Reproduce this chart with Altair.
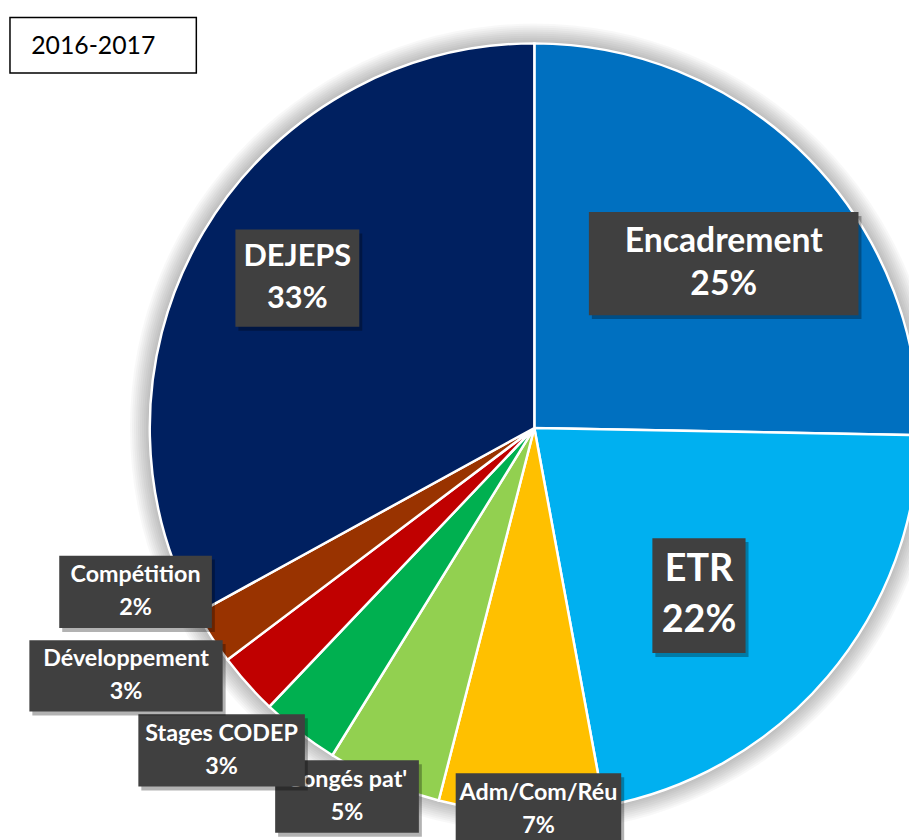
import math
import altair as alt
import pandas as pd

# ---- data ----
labels = ["Encadrement", "ETR", "Adm/Com/Réu", "Congés pat'", "Stages CODEP",
          "Développement", "Compétition", "DEJEPS"]
values = [25.3, 21.8, 6.9, 4.8, 3.3, 2.6, 2.3, 33.0]
colors = ["#0070C0", "#00B0F0", "#FFC000", "#92D050", "#00B050",
          "#C00000", "#993300", "#002060"]
title_text = "2016-2017"

# ---- label styling / placement (style, not data) ----
label_nudge_deg = [3.5, 5.2, -2.6, 3.9, 6.5, 10.5, 10.6, 1.7]
label_r_frac = [0.652, 0.611, 0.992, 1.075, 1.168, 1.242, 1.121, 0.729]
box_w = [272, 94, 167, 145, 168, 195, 154, 125]
box_h = [104, 116, 73, 73, 73, 72, 73, 98]
font_size = [34, 38, 23.5, 23.5, 23.5, 23.5, 23.5, 31]
line_gap = [44, 51, 33, 33, 33, 33, 33, 42]

CX, CY, R = 531, 420, 388
FONT = "Lato"

total = sum(values)
rows = []
cum = 0.0
for i, (lab, v) in enumerate(zip(labels, values)):
    mid = (cum + v / 2) / total * 360 + label_nudge_deg[i]
    cum += v
    r = label_r_frac[i] * R
    lx = CX + r * math.sin(math.radians(mid))
    ly = CY - r * math.cos(math.radians(mid))
    rows.append(dict(
        idx=i, label=lab, value=v, pct=f"{round(v / total * 100)}%",
        lx=lx, ly=ly,
        x1=lx - box_w[i] / 2, x2=lx + box_w[i] / 2,
        y1=ly - box_h[i] / 2, y2=ly + box_h[i] / 2,
        sx1=lx - box_w[i] / 2 + 3, sx2=lx + box_w[i] / 2 + 3,
        sy1=ly - box_h[i] / 2 + 4, sy2=ly + box_h[i] / 2 + 4,
        ny=ly - line_gap[i] / 2, py=ly + line_gap[i] / 2,
        fs=font_size[i],
    ))
df = pd.DataFrame(rows)

# ---- pie shadow (soft glow) ----
one = pd.DataFrame({"k": [0]})
shadow_layers = []
for k in range(1, 11):
    shadow_layers.append(
        alt.Chart(one).mark_arc(radius=R + 2 * k, theta=0, theta2=2 * math.pi,
                                fill="black", opacity=0.028)
        .encode(x=alt.value(CX), y=alt.value(CY))
    )

pie = alt.Chart(df).mark_arc(radius=R, stroke="white", strokeWidth=2.5).encode(
    theta=alt.Theta("value:Q", stack=True),
    color=alt.Color("label:N", scale=alt.Scale(domain=labels, range=colors), legend=None),
    order=alt.Order("idx:Q"),
    x=alt.value(CX), y=alt.value(CY),
)

X = lambda f: alt.X(f"{f}:Q", scale=None, axis=None)
Y = lambda f: alt.Y(f"{f}:Q", scale=None, axis=None)

label_layers = []
for i, lab in enumerate(labels):
    base = alt.Chart(df).transform_filter(alt.datum.idx == i)
    shadow = base.mark_rect(fill="black", opacity=0.3).encode(
        x=X("sx1"), x2="sx2", y=Y("sy1"), y2="sy2")
    box = base.mark_rect(fill="#404040").encode(
        x=X("x1"), x2="x2", y=Y("y1"), y2="y2")
    name = base.mark_text(font=FONT, fontWeight="bold", color="white",
                          align="center", baseline="middle").encode(
        x=X("lx"), y=Y("ny"), text="label:N", size=alt.Size("fs:Q", scale=None, legend=None))
    pct = base.mark_text(font=FONT, fontWeight="bold", color="white",
                         align="center", baseline="middle").encode(
        x=X("lx"), y=Y("py"), text="pct:N", size=alt.Size("fs:Q", scale=None, legend=None))
    label_layers += [shadow, box, name, pct]

tdf = pd.DataFrame({"t": [title_text]})
title_box = alt.Chart(tdf).mark_rect(fill="white", stroke="black", strokeWidth=1.5).encode(
    x=alt.value(2), x2=alt.value(190), y=alt.value(6), y2=alt.value(62))
title_txt = alt.Chart(tdf).mark_text(font=FONT, fontSize=25, color="black",
                                     align="center", baseline="middle").encode(
    x=alt.value(86), y=alt.value(35), text="t:N")

chart = alt.layer(*shadow_layers, pie, *label_layers, title_box, title_txt).properties(
    width=909, height=832,
    autosize=alt.AutoSizeParams(type="none"),
    padding=0,
    background="white",
).configure_view(stroke=None)

chart.save("out.html", embed_options={"renderer": "svg", "actions": False})
